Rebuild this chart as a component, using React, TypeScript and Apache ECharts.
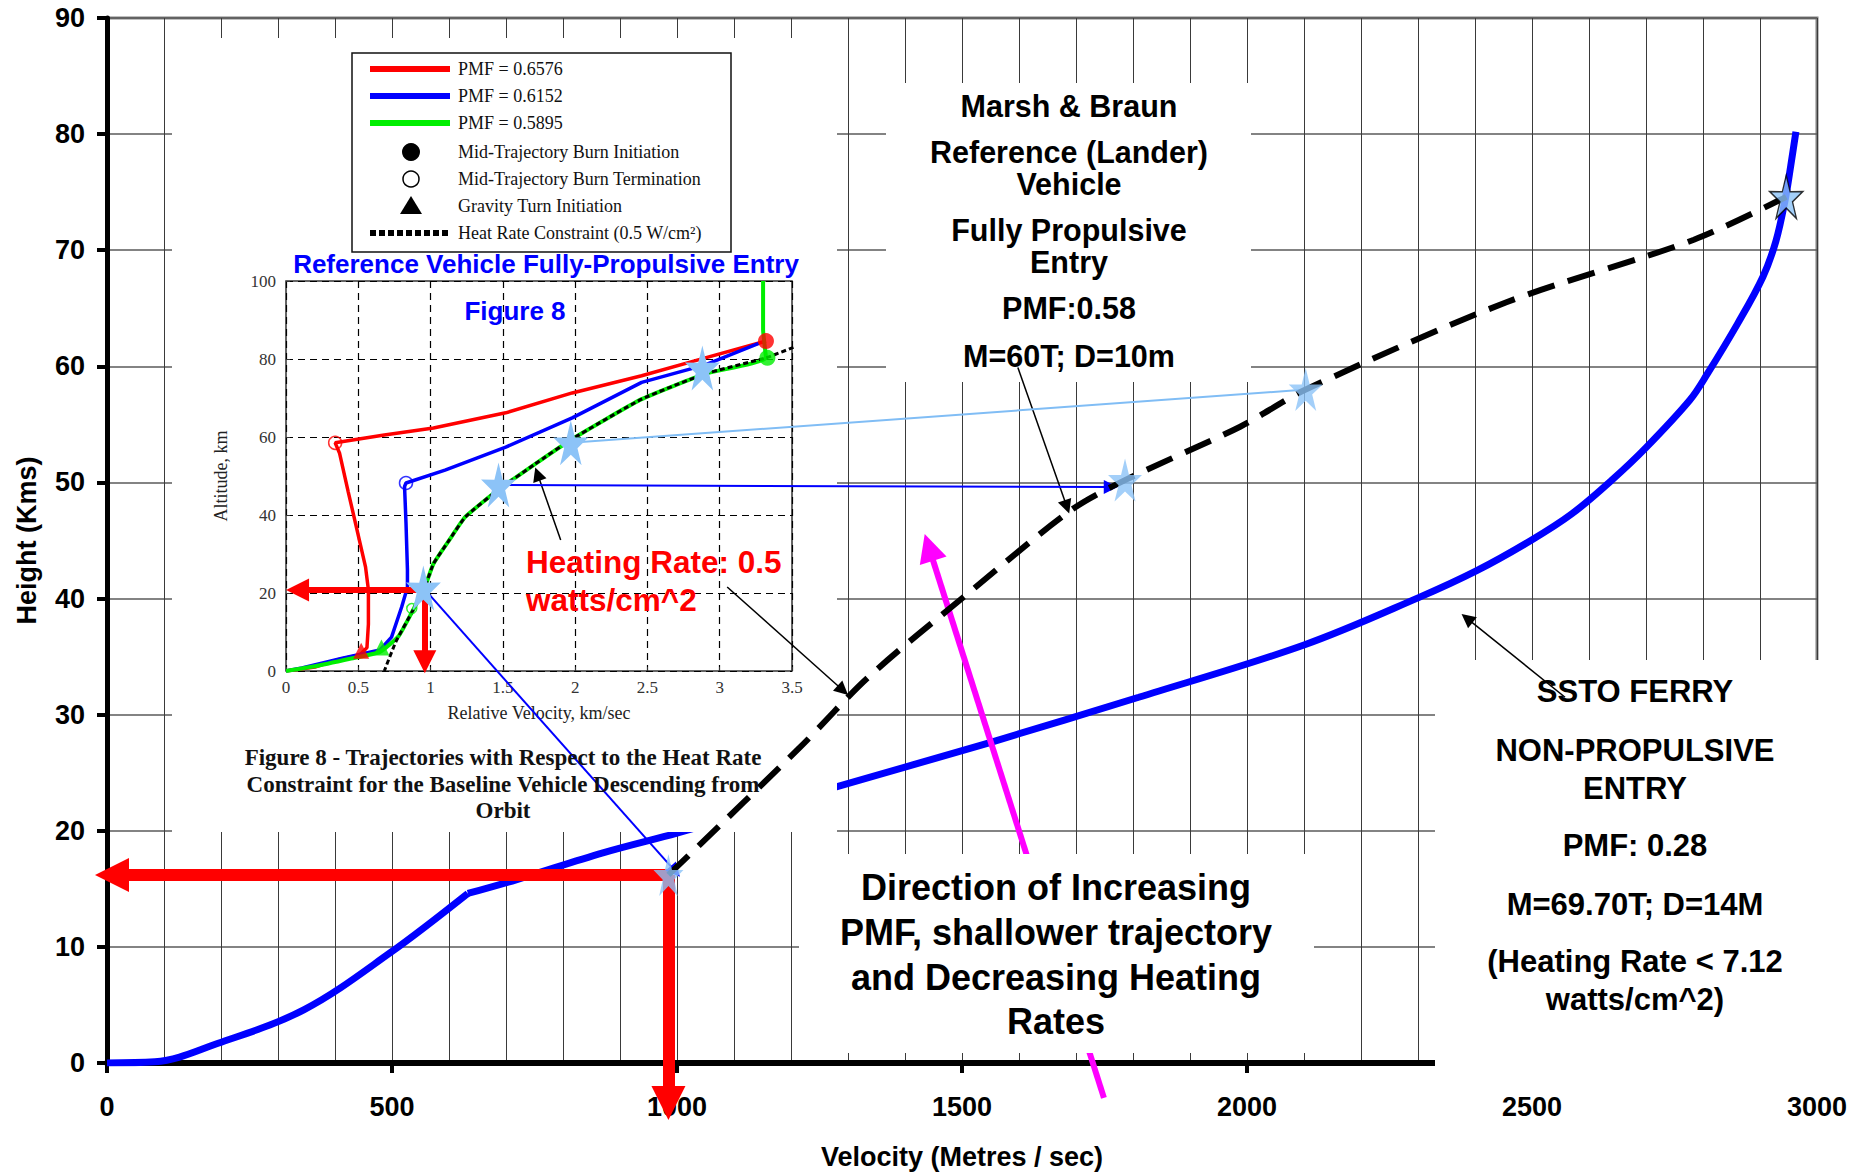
import React, { useEffect, useRef } from "react";
import * as echarts from "echarts";

// ---------- main chart axes ----------
const velMin = 0;
const velMax = 3000;
const velGridStep = 100;
const velLabelStep = 500;
const hMin = 0;
const hMax = 90;
const hStep = 10;

// ---------- SSTO ferry non-propulsive entry (m/s, km) ----------
const sstoVelocity = [0, 84, 195, 346, 497, 633, 719, 870, 1000, 1100, 1200, 1281, 1549, 1810, 2100, 2302, 2403, 2498, 2570, 2640, 2700, 2777, 2807, 2861, 2905, 2928, 2944, 2954, 2963];
const sstoHeight = [0, 0.1, 1.7, 4.6, 9.5, 14.6, 15.8, 18.1, 19.8, 21.2, 22.6, 23.8, 27.6, 31.5, 36.0, 40.1, 42.4, 45.0, 47.3, 50.2, 53.0, 57.1, 59.3, 63.7, 67.7, 70.8, 74.3, 77.3, 80.2];
const sstoKinkIndex = 5;

// ---------- Marsh & Braun reference vehicle (mapped, dashed) ----------
const refVelocity = [985, 1216, 1335, 1512, 1691, 1786, 1988, 2103, 2454, 2784, 2946];
const refHeight = [16.2, 27.2, 33.2, 40.5, 47.6, 50.2, 54.8, 58.0, 65.5, 70.9, 74.6];

// stars on the main chart
const mainStarVel = [985, 1786, 2103, 2946];
const mainStarH = [16.2, 50.2, 58.0, 74.6];

// ---------- inset (Figure 8) axes ----------
const insetVMax = 3.5;
const insetVStep = 0.5;
const insetAltMax = 100;
const insetAltStep = 20;

// inset trajectories (km/s, km)
const redV = [3.32, 2.9, 2.46, 1.98, 1.52, 1.02, 0.68, 0.34, 0.37, 0.43, 0.48, 0.55, 0.57, 0.57, 0.56, 0.51, 0.35, 0.2, 0];
const redAlt = [84.6, 80.3, 75.7, 71.3, 66.2, 62.3, 60.5, 58.5, 55.9, 46, 38, 26.7, 20.8, 12, 6, 4.1, 2.8, 1, 0];
const blueV = [3.27, 2.9, 2.46, 1.98, 1.52, 1.1, 0.83, 0.82, 0.83, 0.84, 0.84, 0.8, 0.73, 0.65, 0.39, 0.11, 0];
const blueAlt = [84, 78.5, 74.0, 64.9, 57.4, 51.5, 48.2, 47.3, 38, 26, 21.5, 16.4, 8.7, 5.4, 3.3, 0.8, 0];
const greenV = [3.3, 3.3, 3.32, 2.9, 2.46, 1.98, 1.72, 1.47, 1.24, 1.13, 1.02, 0.96, 0.87, 0.78, 0.65, 0.45, 0.2, 0];
const greenAlt = [100, 87.5, 80.3, 76.2, 69.7, 59.5, 53, 46.5, 39.5, 33.6, 27.5, 21.5, 15, 9, 4.9, 3.2, 1.2, 0];
const heatV = [3.51, 3.32, 2.9, 2.46, 1.98, 1.72, 1.47, 1.24, 1.13, 1.02, 0.96, 0.87, 0.76, 0.68];
const heatAlt = [83, 80.3, 76.2, 69.7, 59.5, 53, 46.5, 39.5, 33.6, 27.5, 21.5, 15, 7.5, 0];

// inset event markers
const burnStartV = [3.32, 3.33];
const burnStartAlt = [84.6, 80.3];
const burnEndV = [0.34, 0.83, 0.87];
const burnEndAlt = [58.5, 48.2, 16];
const gravityTurnV = [0.52, 0.66];
const gravityTurnAlt = [5.2, 6.0];

// stars on the inset
const insetStarV = [2.88, 1.97, 1.47, 0.95];
const insetStarAlt = [77.7, 58.5, 47.7, 21.3];

// legend labels
const legendLabels = [
  "PMF = 0.6576",
  "PMF = 0.6152",
  "PMF = 0.5895",
  "Mid-Trajectory Burn Initiation",
  "Mid-Trajectory Burn Termination",
  "Gravity Turn Initiation",
  "Heat Rate Constraint (0.5 W/cm\u00B2)",
];

// annotation arrows (data coordinates)
const mainRedArrowH = [[985, 16.2], [8.8, 16.2]];
const mainRedArrowV = [[985, 16.2], [985, -3.45]];
const insetRedArrowH = [[0.95, 20.8], [0.08, 20.8]];
const insetRedArrowV = [[0.96, 21], [0.96, 2.4]];
const pointerMarsh = [[1598, 59.9], [1684, 47.9]];
const pointerHeat = [[1088, 41.0], [1291, 32.1]];
const pointerSsto = [[2558, 31.5], [2386, 38.3]];
const pointerInset = [[1.9, 33.6], [1.74, 50.5]];
const magentaArrow = [[1749, -3.0], [1442, 44.4]];
const blueConnectorEnd = [1761, 49.6];
const blueConnector2End = [997, 16.5];

const SANS = '"Liberation Sans", Arial, sans-serif';
const SERIF = '"Liberation Serif", "Times New Roman", serif';
const STAR =
  "path://M50 0 L61.2 34.6 L97.6 34.5 L68.1 55.9 L79.4 90.5 L50 69 L20.6 90.5 L31.9 55.9 L2.4 34.5 L38.8 34.6 Z";
const STAR_BLUE = "#8cc3f7";

const zip = (a: number[], b: number[]) => a.map((v, i) => [v, b[i]]);

function text(x: number, y: number, t: string, size: number, opts: any = {}) {
  return {
    type: "text",
    x,
    y,
    z: opts.z ?? 8,
    style: {
      text: t,
      fill: opts.fill ?? "#000",
      fontSize: size,
      fontWeight: opts.weight ?? "bold",
      fontFamily: opts.family ?? SANS,
      textAlign: opts.align ?? "center",
      textVerticalAlign: "middle",
    },
  };
}

function arrowSeries(coords: number[][][], color: string, width: number, size: number, z: number, xi: number, yi: number) {
  return {
    type: "lines",
    coordinateSystem: "cartesian2d",
    xAxisIndex: xi,
    yAxisIndex: yi,
    z,
    clip: false,
    silent: true,
    symbol: ["none", "triangle"],
    symbolSize: size,
    lineStyle: { color, width, opacity: 1, curveness: 0 },
    data: coords.map((c) => ({ coords: c })),
  };
}

function buildGraphic() {
  const g: any[] = [];
  // white boxes covering the grid
  const boxes = [
    [172, 38, 665, 794],
    [886, 83, 365, 299],
    [799, 854, 515, 199],
    [1435, 660, 427, 515],
  ];
  boxes.forEach((b) =>
    g.push({ type: "rect", z: 3, shape: { x: b[0], y: b[1], width: b[2], height: b[3] }, style: { fill: "#fff" } })
  );
  // inset legend box
  g.push({ type: "rect", z: 6, shape: { x: 352, y: 53, width: 379, height: 199 }, style: { fill: "#fff", stroke: "#111", lineWidth: 1.5 } });
  const rows = [69, 96, 123, 152, 179, 206, 233];
  const lineColors = ["#ff0000", "#0000ff", "#00ee00"];
  lineColors.forEach((c, i) =>
    g.push({ type: "line", z: 7, shape: { x1: 370, y1: rows[i], x2: 450, y2: rows[i] }, style: { stroke: c, lineWidth: 6 } })
  );
  g.push({ type: "circle", z: 7, shape: { cx: 411, cy: rows[3], r: 9 }, style: { fill: "#000" } });
  g.push({ type: "circle", z: 7, shape: { cx: 411, cy: rows[4], r: 8 }, style: { fill: "#fff", stroke: "#000", lineWidth: 1.5 } });
  g.push({ type: "polygon", z: 7, shape: { points: [[411, rows[5] - 10], [400, rows[5] + 8], [422, rows[5] + 8]] }, style: { fill: "#000" } });
  g.push({ type: "line", z: 7, shape: { x1: 370, y1: rows[6], x2: 450, y2: rows[6] }, style: { stroke: "#000", lineWidth: 6, lineDash: [6, 3] } });
  legendLabels.forEach((t, i) => g.push(text(458, rows[i], t, 18, { align: "left", weight: "normal", family: SERIF, fill: "#111" })));

  // inset titles
  g.push(text(546, 264, "Reference Vehicle Fully-Propulsive Entry", 26, { fill: "#0000ff" }));
  g.push(text(515, 311, "Figure 8", 26, { fill: "#0000ff" }));
  // inset caption
  g.push(text(503, 757, "Figure 8 - Trajectories with Respect to the Heat Rate", 23, { family: SERIF, fill: "#111" }));
  g.push(text(503, 784, "Constraint for the Baseline Vehicle Descending from", 23, { family: SERIF, fill: "#111" }));
  g.push(text(503, 810, "Orbit", 23, { family: SERIF, fill: "#111" }));

  // heating rate red label
  g.push(text(526, 562, "Heating Rate: 0.5", 31.5, { align: "left", fill: "#ff0000" }));
  g.push(text(526, 600, "watts/cm^2", 31.5, { align: "left", fill: "#ff0000" }));

  // Marsh & Braun block
  const marsh: [string, number][] = [
    ["Marsh & Braun", 106],
    ["Reference (Lander)", 152],
    ["Vehicle", 184],
    ["Fully Propulsive", 230],
    ["Entry", 262],
    ["PMF:0.58", 308],
    ["M=60T; D=10m", 356],
  ];
  marsh.forEach(([t, y]) => g.push(text(1069, y, t, 30.5)));

  // direction block
  const dir: [string, number][] = [
    ["Direction of Increasing", 887],
    ["PMF, shallower trajectory", 932],
    ["and Decreasing Heating", 977],
    ["Rates", 1021],
  ];
  dir.forEach(([t, y]) => g.push(text(1056, y, t, 36)));

  // SSTO block
  const ssto: [string, number][] = [
    ["SSTO FERRY", 691],
    ["NON-PROPULSIVE", 750],
    ["ENTRY", 788],
    ["PMF: 0.28", 845],
    ["M=69.70T; D=14M", 904],
    ["(Heating Rate < 7.12", 961],
    ["watts/cm^2)", 999],
  ];
  ssto.forEach(([t, y]) => g.push(text(1635, y, t, 31)));
  return g;
}

function buildSeries() {
  const insetStarSizes = [[35, 45], [35, 45], [35, 45], [35, 45]];
  const mainStarSizes = [[30, 42], [34, 43], [34, 43], [33, 43]];
  const sstoAll = zip(sstoVelocity, sstoHeight);
  const sstoStyle = { color: "#0000ff", width: 7 };
  return [
    {
      type: "line", xAxisIndex: 0, yAxisIndex: 0, z: 1,
      data: sstoAll.slice(0, sstoKinkIndex + 1), symbol: "none", smooth: 0.35,
      lineStyle: sstoStyle,
    },
    {
      type: "line", xAxisIndex: 0, yAxisIndex: 0, z: 1,
      data: sstoAll.slice(sstoKinkIndex), symbol: "none", smooth: 0.35,
      lineStyle: sstoStyle,
    },
    arrowSeries([magentaArrow], "#ff00ff", 6, 28, 2, 0, 0),
    {
      type: "line", xAxisIndex: 3, yAxisIndex: 1, z: 5, data: zip(redV, redAlt), symbol: "none",
      lineStyle: { color: "#ff0000", width: 3.5 },
    },
    {
      type: "line", xAxisIndex: 3, yAxisIndex: 1, z: 5, data: zip(blueV, blueAlt), symbol: "none",
      lineStyle: { color: "#0000ff", width: 3.5 },
    },
    {
      type: "line", xAxisIndex: 3, yAxisIndex: 1, z: 5, data: zip(greenV, greenAlt), symbol: "none", smooth: 0.15,
      lineStyle: { color: "#00ee00", width: 4 },
    },
    {
      type: "line", xAxisIndex: 3, yAxisIndex: 1, z: 5, data: zip(heatV, heatAlt), symbol: "none", smooth: 0.15,
      lineStyle: { color: "#000", width: 3, type: [5, 3] },
    },
    {
      type: "scatter", xAxisIndex: 3, yAxisIndex: 1, z: 5,
      data: [
        { value: [burnStartV[0], burnStartAlt[0]], symbol: "circle", symbolSize: 16, itemStyle: { color: "#ff0000" } },
        { value: [burnStartV[1], burnStartAlt[1]], symbol: "circle", symbolSize: 16, itemStyle: { color: "#00ee00" } },
        { value: [burnEndV[0], burnEndAlt[0]], symbol: "circle", symbolSize: 13, itemStyle: { color: "rgba(255,255,255,0)", borderColor: "#ff0000", borderWidth: 1.5 } },
        { value: [burnEndV[1], burnEndAlt[1]], symbol: "circle", symbolSize: 13, itemStyle: { color: "rgba(255,255,255,0)", borderColor: "#0000ff", borderWidth: 1.5 } },
        { value: [burnEndV[2], burnEndAlt[2]], symbol: "circle", symbolSize: 10, itemStyle: { color: "rgba(255,255,255,0)", borderColor: "#00ee00", borderWidth: 1.5 } },
        { value: [gravityTurnV[0], gravityTurnAlt[0]], symbol: "triangle", symbolSize: 16, itemStyle: { color: "#ff0000" } },
        { value: [gravityTurnV[1], gravityTurnAlt[1]], symbol: "triangle", symbolSize: 16, itemStyle: { color: "#00ee00" } },
      ],
    },
    {
      type: "scatter", xAxisIndex: 3, yAxisIndex: 1, z: 7,
      data: insetStarV.map((v, i) => ({ value: [v, insetStarAlt[i]], symbol: STAR, symbolSize: insetStarSizes[i] })),
      itemStyle: { color: STAR_BLUE, opacity: 1 },
    },
    arrowSeries([insetRedArrowH, insetRedArrowV], "#ff0000", 6, 23, 6, 3, 1),
    arrowSeries([pointerInset], "#000", 1.5, 14, 6, 3, 1),
    {
      type: "line", xAxisIndex: 0, yAxisIndex: 0, z: 6, data: zip(refVelocity, refHeight), symbol: "none", smooth: 0.3,
      lineStyle: { color: "#000", width: 6, type: [28, 14], cap: "butt" },
    },
    arrowSeries([mainRedArrowH, mainRedArrowV], "#ff0000", 12, 34, 6, 0, 0),
    arrowSeries([pointerMarsh, pointerHeat, pointerSsto], "#000", 1.5, 14, 6, 0, 0),
    {
      type: "scatter", xAxisIndex: 0, yAxisIndex: 0, z: 7,
      data: mainStarVel.map((v, i) => ({
        value: [v, mainStarH[i]],
        symbol: STAR,
        symbolSize: mainStarSizes[i],
        itemStyle: i === 3 ? { color: STAR_BLUE, borderColor: "#000", borderWidth: 1.5 } : { color: STAR_BLUE },
      })),
    },
  ];
}

function buildOption() {
  const labelFont = { fontSize: 27, fontWeight: "bold", color: "#000", fontFamily: SANS };
  const insetFont = { fontSize: 17, color: "#333", fontFamily: SERIF };
  const plain = (v: number) => String(v);
  return {
    animation: false,
    backgroundColor: "#fff",
    grid: [
      { left: 107, top: 18, width: 1710, height: 1045, show: true, borderColor: "#808080", borderWidth: 3, z: 0 },
      { left: 286, top: 281, width: 506, height: 390, show: true, borderColor: "#333", borderWidth: 1.5, z: 4 },
    ],
    xAxis: [
      {
        gridIndex: 0, type: "value", min: velMin, max: velMax, interval: velGridStep, z: 0,
        axisLine: { show: true, onZero: false, lineStyle: { color: "#000", width: 6 } },
        axisTick: { show: false }, axisLabel: { show: false },
        splitLine: { show: true, lineStyle: { color: "#3a3a3a", width: 1 } },
      },
      {
        gridIndex: 0, type: "value", position: "bottom", min: velMin, max: velMax, interval: velLabelStep, z: 0,
        axisLine: { show: false, onZero: false },
        axisTick: { show: true, length: 10, lineStyle: { color: "#000", width: 4 } },
        axisLabel: { show: false }, splitLine: { show: false },
      },
      {
        gridIndex: 0, type: "value", position: "bottom", min: velMin, max: velMax, interval: velLabelStep, z: 5,
        axisLine: { show: false, onZero: false }, axisTick: { show: false }, splitLine: { show: false },
        axisLabel: { ...labelFont, margin: 30, showMinLabel: true, showMaxLabel: true, formatter: plain },
        name: "Velocity (Metres / sec)", nameLocation: "middle", nameGap: 80,
        nameTextStyle: { ...labelFont },
      },
      {
        gridIndex: 1, type: "value", min: 0, max: insetVMax, interval: insetVStep, z: 4,
        axisLine: { show: false, onZero: false },
        axisTick: { show: true, inside: true, length: 4, lineStyle: { color: "#333" } },
        axisLabel: { ...insetFont, margin: 8, showMinLabel: true, showMaxLabel: true, formatter: plain },
        splitLine: { show: true, lineStyle: { color: "#000", width: 1.2, type: [7, 5] } },
        name: "Relative Velocity, km/sec", nameLocation: "middle", nameGap: 33,
        nameTextStyle: { fontSize: 18, color: "#222", fontFamily: SERIF },
      },
    ],
    yAxis: [
      {
        gridIndex: 0, type: "value", min: hMin, max: hMax, interval: hStep, z: 0,
        axisLine: { show: true, onZero: false, lineStyle: { color: "#000", width: 5 } },
        axisTick: { show: true, length: 10, lineStyle: { color: "#000", width: 4 } },
        axisLabel: { ...labelFont, margin: 22, formatter: plain },
        splitLine: { show: true, lineStyle: { color: "#5a5a5a", width: 1.5 } },
        name: "Height (Kms)", nameLocation: "middle", nameGap: 67, nameRotate: 90,
        nameTextStyle: { ...labelFont },
      },
      {
        gridIndex: 1, type: "value", min: 0, max: insetAltMax, interval: insetAltStep, z: 4,
        axisLine: { show: false, onZero: false },
        axisTick: { show: true, inside: true, length: 4, lineStyle: { color: "#333" } },
        axisLabel: { ...insetFont, margin: 10, formatter: plain },
        splitLine: { show: true, lineStyle: { color: "#000", width: 1.2, type: [7, 5] } },
        name: "Altitude, km", nameLocation: "middle", nameGap: 56, nameRotate: 90,
        nameTextStyle: { fontSize: 18, color: "#222", fontFamily: SERIF },
      },
    ],
    graphic: { elements: buildGraphic() },
    series: buildSeries(),
  };
}

export default function App() {
  const ref = useRef<HTMLDivElement>(null);
  useEffect(() => {
    const el = ref.current;
    if (!el) return;
    const chart = echarts.init(el, null, { renderer: "svg" });
    const option: any = buildOption();
    chart.setOption(option);

    // connectors from the inset stars to the main chart stars, through both scales
    const toMain = (v: number, a: number) => {
      const px = chart.convertToPixel({ xAxisIndex: 3, yAxisIndex: 1 } as any, [v, a]) as any;
      return chart.convertFromPixel({ xAxisIndex: 0, yAxisIndex: 0 } as any, px) as any;
    };
    const lightStart = toMain(insetStarV[1], insetStarAlt[1]);
    const blueStart = toMain(insetStarV[2], insetStarAlt[2]);
    const blue2Start = toMain(insetStarV[3], insetStarAlt[3]);
    const connectors = [
      {
        type: "lines", coordinateSystem: "cartesian2d", xAxisIndex: 0, yAxisIndex: 0, z: 6, clip: false, silent: true,
        symbol: "none",
        lineStyle: { color: "#80bdf5", width: 2, opacity: 1, curveness: 0 },
        data: [{ coords: [lightStart, [mainStarVel[2], mainStarH[2]]] }],
      },
      arrowSeries([[blueStart, blueConnectorEnd], [blue2Start, blueConnector2End]], "#0000ff", 2, 14, 6, 0, 0),
    ];
    chart.setOption({ series: [...option.series, ...connectors] });
    return () => chart.dispose();
  }, []);
  return (
    <div
      ref={ref}
      style={{ position: "fixed", left: 0, top: 0, width: 1862, height: 1175, background: "#fff" }}
    />
  );
}
